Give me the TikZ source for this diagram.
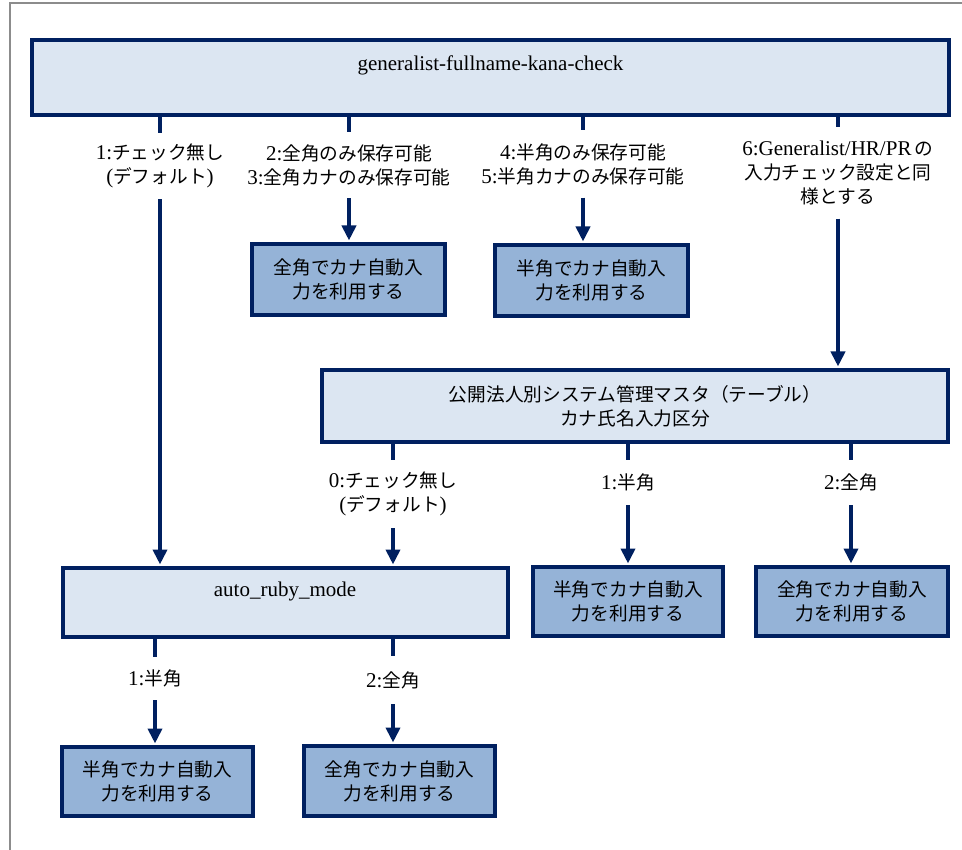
\documentclass[tikz,border=0pt]{standalone}
\usepackage{fontspec}
\setmainfont{Liberation Serif}
\newfontfamily\cjk[Scale=0.89]{Noto Sans CJK JP}
\usetikzlibrary{arrows.meta}
\definecolor{navy}{HTML}{002060}
\definecolor{lightbox}{HTML}{DCE6F2}
\definecolor{darkbox}{HTML}{95B3D7}
\definecolor{framegray}{HTML}{8C8C8C}
\begin{document}
\begin{tikzpicture}[x=1pt,y=-1pt,
  every node/.style={font=\fontsize{21pt}{24pt}\selectfont},
  headbox/.style={draw=navy, fill=lightbox, line width=4pt, inner sep=0pt},
  leafbox/.style={draw=navy, fill=darkbox, line width=4pt, inner sep=0pt, align=center, minimum height=70pt},
  lbl/.style={inner sep=0pt, align=center},
  conn/.style={draw=navy, line width=4pt},
  arr/.style={conn, -{Triangle[length=15pt,width=14pt]}, shorten >=1.5pt},
]
\path[use as bounding box] (0,0) rectangle (962,850);
\draw[framegray, line width=2pt] (10,850) -- (10,3) -- (962,3);

% head boxes
\node[headbox, minimum width=917pt, text height=31pt, text depth=44pt] (top) at (490.5,77.5) {generalist-fullname-kana-check};
\node[headbox, align=center, minimum width=626pt, minimum height=72pt] (mid) at (635,406)
  {{\cjk 公開法人別システム管理マスタ（テーブル）}\\{\cjk カナ氏名入力区分}};
\node[headbox, minimum width=445pt, text height=28pt, text depth=41pt] (ruby) at (285,602.5) {auto\_ruby\_mode};

% leaf boxes
\node[leafbox, minimum width=193pt, minimum height=71pt] (A) at (348.5,279.5) {{\cjk 全角でカナ自動入}\\{\cjk 力を利用する}};
\node[leafbox, minimum width=193pt, minimum height=71pt] (B) at (591.5,280.5) {{\cjk 半角でカナ自動入}\\{\cjk 力を利用する}};
\node[leafbox, minimum width=190pt, minimum height=69pt] (C) at (628,601.5) {{\cjk 半角でカナ自動入}\\{\cjk 力を利用する}};
\node[leafbox, minimum width=192pt, minimum height=69pt] (D) at (852,601.5) {{\cjk 全角でカナ自動入}\\{\cjk 力を利用する}};
\node[leafbox, minimum width=191pt, minimum height=69pt] (E) at (157.5,781.5) {{\cjk 半角でカナ自動入}\\{\cjk 力を利用する}};
\node[leafbox, minimum width=191pt, minimum height=70pt] (F) at (399.5,781) {{\cjk 全角でカナ自動入}\\{\cjk 力を利用する}};

% labels
\node[lbl, minimum height=66pt] (L1) at (160,166) {1:{\cjk チェック無し}\\({\cjk デフォルト})};
\node[lbl, minimum height=66pt] (L23) at (349,165) {2:{\cjk 全角のみ保存可能}\\3:{\cjk 全角カナのみ保存可能}};
\node[lbl, minimum height=67pt] (L45) at (583,164) {4:{\cjk 半角のみ保存可能}\\5:{\cjk 半角カナのみ保存可能}};
\node[lbl, minimum height=91pt] (L6) at (838,173) {6:Generalist/HR/PR\,{\cjk の}\\{\cjk 入力チェック設定と同}\\{\cjk 様とする}};
\node[lbl, minimum height=68pt] (M0) at (393,494) {0:{\cjk チェック無し}\\({\cjk デフォルト})};
\node[lbl, minimum height=45pt] (M1) at (628,482.5) {1:{\cjk 半角}};
\node[lbl, minimum height=45pt] (M2) at (851,482.5) {2:{\cjk 全角}};
\node[lbl, minimum height=43pt] (R1) at (155,678.5) {1:{\cjk 半角}};
\node[lbl, minimum height=48pt] (R2) at (393,680) {2:{\cjk 全角}};

% connectors
\draw[conn] (top.south -| L1) -- (L1.north);
\draw[arr] (L1.south) -- (ruby.north -| L1);
\draw[conn] (top.south -| L23) -- (L23.north);
\draw[arr] (L23.south) -- (A.north -| L23);
\draw[conn] (top.south -| L45) -- (L45.north);
\draw[arr] (L45.south) -- (B.north -| L45);
\draw[conn] (top.south -| L6) -- (L6.north);
\draw[arr] (L6.south) -- (mid.north -| L6);
\draw[conn] (mid.south -| M0) -- (M0.north);
\draw[arr] (M0.south) -- (ruby.north -| M0);
\draw[conn] (mid.south -| M1) -- (M1.north);
\draw[arr] (M1.south) -- (C.north -| M1);
\draw[conn] (mid.south -| M2) -- (M2.north);
\draw[arr] (M2.south) -- (D.north -| M2);
\draw[conn] (ruby.south -| R1) -- (R1.north);
\draw[arr] (R1.south) -- (E.north -| R1);
\draw[conn] (ruby.south -| R2) -- (R2.north);
\draw[arr] (R2.south) -- (F.north -| R2);
\end{tikzpicture}
\end{document}
